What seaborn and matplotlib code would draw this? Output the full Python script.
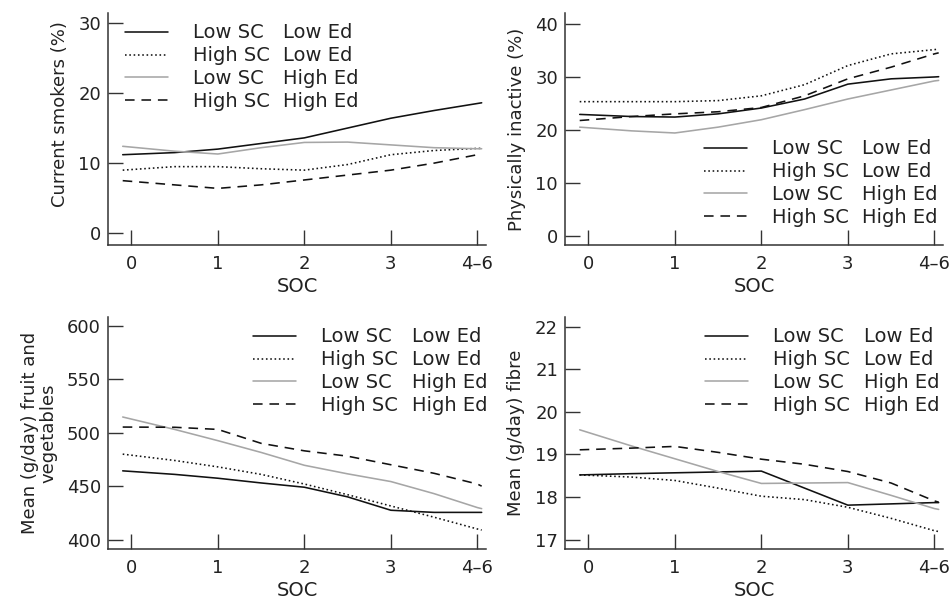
import matplotlib
matplotlib.use("Agg")
import matplotlib.pyplot as plt
import numpy as np
import pandas as pd
import seaborn as sns
from matplotlib.lines import Line2D

# ── Data ─────────────────────────────────────────────────────
SOC = [-0.1, 0.5, 1, 1.5, 2, 2.5, 3, 3.5, 4, 4.05]
SOC_TICKS = [0, 1, 2, 3, 4]
SOC_LABELS = ["0", "1", "2", "3", "4–6"]

GROUPS = ["LL", "HL", "LH", "HH"]
SC_LABELS = ["Low SC", "High SC", "Low SC", "High SC"]
ED_LABELS = ["Low Ed", "Low Ed", "High Ed", "High Ed"]

# current smokers (%)
SMOKE_LL = [11.2, 11.5, 12.0, 12.8, 13.6, 15.0, 16.4, 17.5, 18.5, 18.6]
SMOKE_HL = [9.0, 9.5, 9.5, 9.2, 9.0, 9.8, 11.2, 11.8, 12.1, 12.1]
SMOKE_LH = [12.4, 11.7, 11.3, 12.2, 12.95, 13.0, 12.6, 12.2, 12.05, 12.05]
SMOKE_HH = [7.5, 6.9, 6.4, 6.9, 7.6, 8.3, 9.0, 10.0, 11.2, 11.4]

# physically inactive (%)
INACT_LL = [22.9, 22.5, 22.4, 23.0, 24.1, 25.8, 28.6, 29.6, 29.95, 30.0]
INACT_HL = [25.3, 25.3, 25.3, 25.5, 26.4, 28.5, 32.1, 34.3, 35.1, 35.2]
INACT_LH = [20.5, 19.8, 19.4, 20.5, 21.9, 23.8, 25.8, 27.5, 29.2, 29.3]
INACT_HH = [21.75, 22.5, 23.0, 23.4, 24.2, 26.4, 29.6, 31.8, 34.3, 34.5]

# fruit and vegetables (g/day)
FRUIT_LL = [464.3, 461.0, 457.4, 453.0, 449.0, 440.0, 427.5, 425.5, 425.5, 425.5]
FRUIT_HL = [479.9, 474.0, 468.0, 461.0, 452.0, 442.0, 431.5, 421.0, 410.0, 409.0]
FRUIT_LH = [514.6, 503.0, 492.5, 481.5, 469.5, 461.5, 454.3, 443.0, 430.0, 429.0]
FRUIT_HH = [505.2, 505.0, 503.0, 490.0, 483.0, 478.0, 470.0, 462.0, 452.0, 450.0]

# fibre (g/day)
FIBRE_LL = [18.52, 18.55, 18.57, 18.59, 18.61, 18.21, 17.81, 17.84, 17.87, 17.87]
FIBRE_HL = [18.52, 18.47, 18.39, 18.21, 18.02, 17.94, 17.76, 17.5, 17.21, 17.19]
FIBRE_LH = [19.58, 19.2, 18.9, 18.6, 18.32, 18.33, 18.34, 18.04, 17.73, 17.71]
FIBRE_HH = [19.11, 19.15, 19.19, 19.05, 18.89, 18.77, 18.6, 18.33, 17.91, 17.88]

PANELS = {
    "smoke": [SMOKE_LL, SMOKE_HL, SMOKE_LH, SMOKE_HH],
    "inact": [INACT_LL, INACT_HL, INACT_LH, INACT_HH],
    "fruit": [FRUIT_LL, FRUIT_HL, FRUIT_LH, FRUIT_HH],
    "fibre": [FIBRE_LL, FIBRE_HL, FIBRE_LH, FIBRE_HH],
}

rows = []
for key, series in PANELS.items():
    for grp, vals in zip(GROUPS, series):
        for x, v in zip(SOC, vals):
            rows.append({"panel": key, "group": grp, "soc": x, "value": v})
df = pd.DataFrame(rows)

# ── Style ────────────────────────────────────────────────────
sns.set_style("ticks")
plt.rcParams["font.family"] = ["DejaVu Sans"]
plt.rcParams["axes.edgecolor"] = "#333333"
plt.rcParams["axes.linewidth"] = 1.1

PALETTE = {"LL": "#111111", "HL": "#111111", "LH": "#a6a6a6", "HH": "#111111"}
DASHES = {"LL": "", "HL": (1, 1.7), "LH": "", "HH": (6, 4.3)}
LW = 1.15
TXT = "#222222"

W, H = 952, 602
AX_W, AX_H = 378, 232

# key, ylabel, ylabel y, ylim, yticks, (left px, top px), legend (x, y), ed column x
SETUP = [
    ("smoke", "Current smokers (%)", 0.565, (-1.67, 31.4), [0, 10, 20, 30],
     (108, 13), (0.045, 0.955), 0.463),
    ("inact", "Physically inactive (%)", 0.5, (-1.7, 42), [0, 10, 20, 30, 40],
     (565, 13), (0.368, 0.455), 0.786),
    ("fruit", "Mean (g/day) fruit and\nvegetables", 0.5, (391.3, 608),
     [400, 450, 500, 550, 600], (108, 317), (0.384, 0.955), 0.804),
    ("fibre", "Mean (g/day) fibre", 0.5, (16.78, 22.23),
     [17, 18, 19, 20, 21, 22], (565, 317), (0.37, 0.955), 0.791),
]

fig = plt.figure(figsize=(W / 100, H / 100), dpi=100)

for key, ylabel, label_y, ylim, yticks, (lx, ty), leg_xy, ed_x in SETUP:
    ax = fig.add_axes([lx / W, (H - ty - AX_H) / H, AX_W / W, AX_H / H])
    sns.lineplot(data=df[df["panel"] == key], x="soc", y="value",
                 hue="group", style="group", hue_order=GROUPS,
                 style_order=GROUPS, palette=PALETTE, dashes=DASHES,
                 linewidth=LW, estimator=None, sort=False, legend=False, ax=ax)

    ax.set_xlim(-0.27, 4.1)
    ax.set_ylim(*ylim)
    ax.set_xticks(SOC_TICKS)
    ax.set_xticklabels(SOC_LABELS)
    ax.set_yticks(yticks)
    ax.tick_params(axis="both", direction="in", length=10.5, width=1.0,
                   color="#333333", labelsize=13, labelcolor=TXT)
    ax.tick_params(axis="x", pad=7)
    ax.tick_params(axis="y", pad=5)
    ax.set_xlabel("SOC", fontsize=14, color=TXT, labelpad=3)
    ax.set_ylabel(ylabel, fontsize=13, color=TXT, labelpad=7,
                  linespacing=1.0)
    ax.yaxis.label.set_y(label_y)
    sns.despine(ax=ax)

    handles = [Line2D([], [], color=PALETTE[g], linewidth=LW,
                      linestyle="-" if DASHES[g] == "" else (0, DASHES[g]))
               for g in GROUPS]
    leg1 = ax.legend(handles, SC_LABELS, loc="upper left",
                     bbox_to_anchor=leg_xy, frameon=False, fontsize=14,
                     handlelength=2.2, handletextpad=1.3, labelspacing=0.2,
                     borderpad=0, borderaxespad=0, labelcolor=TXT)
    ax.add_artist(leg1)
    blanks = [Line2D([], [], linestyle="none") for _ in GROUPS]
    ax.legend(blanks, ED_LABELS, loc="upper left",
              bbox_to_anchor=(ed_x, leg_xy[1]), frameon=False, fontsize=14,
              handlelength=0, handletextpad=0, labelspacing=0.2,
              borderpad=0, borderaxespad=0, labelcolor=TXT)

fig.savefig("out.png", dpi=100)
